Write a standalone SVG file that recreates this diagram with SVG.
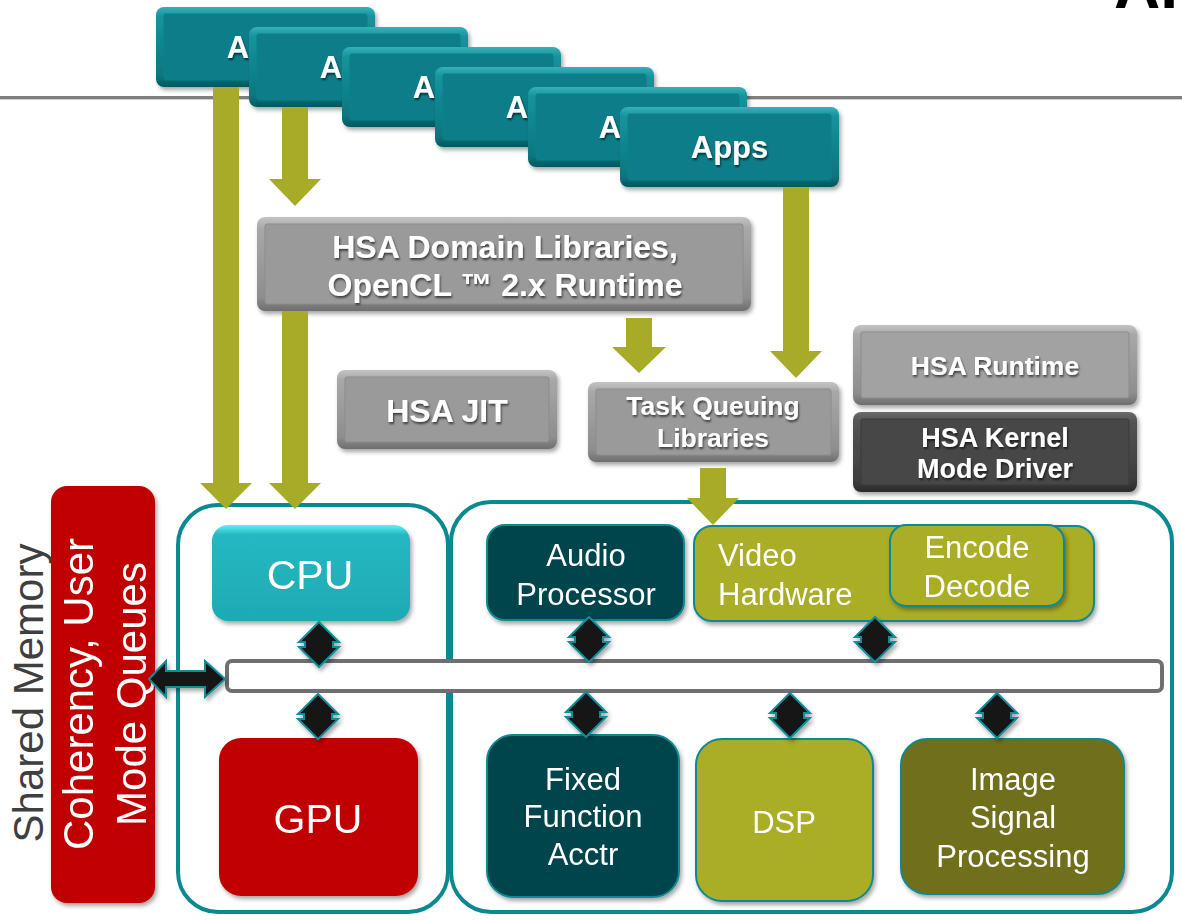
<svg xmlns="http://www.w3.org/2000/svg" xmlns:xlink="http://www.w3.org/1999/xlink" width="1182" height="920" viewBox="0 0 1182 920">
  <style>
    .bold { font-family: "Liberation Sans", Arial, sans-serif; font-weight: bold; fill: #ffffff; text-anchor: middle; }
    .reg { font-family: "Liberation Sans", Arial, sans-serif; fill: #ffffff; text-anchor: middle; font-size: 31px; }
    .big { font-size: 41px; }
    .side { font-family: "Liberation Sans", Arial, sans-serif; font-size: 42px; text-anchor: middle; }
    .tealEdge { fill: url(#tealBevel); }
    .tealFace { fill: #0a7e89; stroke: #068089; stroke-width: 1; }
    .grayEdge { fill: url(#grayBevel); }
    .grayFace { fill: #9a9a9a; stroke: #8c8c8c; stroke-width: 1; }
    .darkEdge { fill: url(#darkBevel); }
    .darkFace { fill: #474747; stroke: #3c3c3c; stroke-width: 1; }
    .frame { fill: none; stroke: #0b8993; stroke-width: 4; }
    .unit { stroke: #0b8993; stroke-width: 2; }
    .flow { fill: #a8ab27; }
    .link { fill: #141419; stroke: #0b8e98; stroke-width: 2; stroke-linejoin: miter; }
  </style>
  <defs>
    <linearGradient id="tealBevel" x1="0" y1="0" x2="0" y2="1">
      <stop offset="0" stop-color="#35b0b9"/>
      <stop offset="0.12" stop-color="#14939d"/>
      <stop offset="0.85" stop-color="#0a7780"/>
      <stop offset="1" stop-color="#045860"/>
    </linearGradient>
    <linearGradient id="grayBevel" x1="0" y1="0" x2="0" y2="1">
      <stop offset="0" stop-color="#c4c4c4"/>
      <stop offset="0.12" stop-color="#a8a8a8"/>
      <stop offset="0.85" stop-color="#8e8e8e"/>
      <stop offset="1" stop-color="#6e6e6e"/>
    </linearGradient>
    <linearGradient id="darkBevel" x1="0" y1="0" x2="0" y2="1">
      <stop offset="0" stop-color="#6a6a6a"/>
      <stop offset="0.12" stop-color="#545454"/>
      <stop offset="0.85" stop-color="#3e3e3e"/>
      <stop offset="1" stop-color="#2a2a2a"/>
    </linearGradient>
    <linearGradient id="cpuFill" x1="0" y1="0" x2="0" y2="1">
      <stop offset="0" stop-color="#5cf2f7"/>
      <stop offset="0.1" stop-color="#25b8c2"/>
      <stop offset="1" stop-color="#1eaab4"/>
    </linearGradient>
    <filter id="shadow" x="-10%" y="-10%" width="125%" height="135%">
      <feDropShadow dx="2" dy="3" stdDeviation="2" flood-color="#000" flood-opacity="0.35"/>
    </filter>
    <filter id="textShadow" x="-10%" y="-20%" width="120%" height="150%">
      <feDropShadow dx="1" dy="2" stdDeviation="1" flood-color="#000" flood-opacity="0.6"/>
    </filter>
    <!-- two-headed bus link, drawn pointing down from its top tip -->
    <path id="dbl" d="M0,0 L20,20 H14 V25 H20 L0,45 L-20,25 H-14 V20 H-20 Z"/>
  </defs>

  <rect width="1182" height="920" fill="#ffffff"/>

  <!-- title rule and clipped heading -->
  <rect x="0" y="96" width="1182" height="3" fill="#7f7f7f"/>
  <rect x="0" y="99" width="1182" height="1" fill="#cfcfcf"/>
  <text x="1114" y="8" font-family="Liberation Sans, Arial, sans-serif" font-weight="bold" font-size="64" fill="#000000">AP</text>

  <!-- stacked application boxes -->
  <g id="app1" filter="url(#shadow)">
    <rect class="tealEdge" x="156" y="7" width="219" height="80" rx="8"/>
    <rect class="tealFace" x="164" y="14" width="203" height="66" rx="2"/>
    <text class="bold" x="265.5" y="58" font-size="31" filter="url(#textShadow)">Apps</text>
  </g>
  <g id="app2" filter="url(#shadow)">
    <rect class="tealEdge" x="249" y="27" width="219" height="80" rx="8"/>
    <rect class="tealFace" x="257" y="34" width="203" height="66" rx="2"/>
    <text class="bold" x="358.5" y="78" font-size="31" filter="url(#textShadow)">Apps</text>
  </g>
  <g id="app3" filter="url(#shadow)">
    <rect class="tealEdge" x="342" y="47" width="219" height="80" rx="8"/>
    <rect class="tealFace" x="350" y="54" width="203" height="66" rx="2"/>
    <text class="bold" x="451.5" y="98" font-size="31" filter="url(#textShadow)">Apps</text>
  </g>
  <g id="app4" filter="url(#shadow)">
    <rect class="tealEdge" x="435" y="67" width="219" height="80" rx="8"/>
    <rect class="tealFace" x="443" y="74" width="203" height="66" rx="2"/>
    <text class="bold" x="544.5" y="118" font-size="31" filter="url(#textShadow)">Apps</text>
  </g>
  <g id="app5" filter="url(#shadow)">
    <rect class="tealEdge" x="528" y="87" width="219" height="80" rx="8"/>
    <rect class="tealFace" x="536" y="94" width="203" height="66" rx="2"/>
    <text class="bold" x="637.5" y="138" font-size="31" filter="url(#textShadow)">Apps</text>
  </g>
  <g id="app6" filter="url(#shadow)">
    <rect class="tealEdge" x="620" y="107" width="219" height="80" rx="8"/>
    <rect class="tealFace" x="628" y="114" width="203" height="66" rx="2"/>
    <text class="bold" x="729.5" y="158" font-size="31" filter="url(#textShadow)">Apps</text>
  </g>

  <!-- software stack -->
  <g id="domainLibs" filter="url(#shadow)">
    <rect class="grayEdge" x="257" y="217" width="494" height="94" rx="8"/>
    <rect class="grayFace" x="265" y="224" width="478" height="80" rx="2"/>
    <text class="bold" x="505" y="258" font-size="32" filter="url(#textShadow)">HSA Domain Libraries,</text>
    <text class="bold" x="505" y="296" font-size="32" filter="url(#textShadow)">OpenCL ™ 2.x Runtime</text>
  </g>
  <g id="hsaJit" filter="url(#shadow)">
    <rect class="grayEdge" x="337" y="370" width="220" height="79" rx="8"/>
    <rect class="grayFace" x="345" y="377" width="204" height="65" rx="2"/>
    <text class="bold" x="447" y="422" font-size="32" filter="url(#textShadow)">HSA JIT</text>
  </g>
  <g id="taskQueuing" filter="url(#shadow)">
    <rect class="grayEdge" x="588" y="382" width="251" height="80" rx="8"/>
    <rect class="grayFace" x="596" y="389" width="235" height="66" rx="2"/>
    <text class="bold" x="713" y="415" font-size="26.5" filter="url(#textShadow)">Task Queuing</text>
    <text class="bold" x="713" y="447" font-size="26.5" filter="url(#textShadow)">Libraries</text>
  </g>
  <g id="hsaRuntime" filter="url(#shadow)">
    <rect class="grayEdge" x="853" y="325" width="284" height="80" rx="8"/>
    <rect class="grayFace" x="861" y="332" width="268" height="66" rx="2" style="fill:#a2a2a2"/>
    <text class="bold" x="995" y="375" font-size="26.5" filter="url(#textShadow)">HSA Runtime</text>
  </g>
  <g id="kernelDriver" filter="url(#shadow)">
    <rect class="darkEdge" x="853" y="412" width="284" height="80" rx="8"/>
    <rect class="darkFace" x="861" y="419" width="268" height="66" rx="2"/>
    <text class="bold" x="995" y="447" font-size="27" filter="url(#textShadow)">HSA Kernel</text>
    <text class="bold" x="995" y="478" font-size="27" filter="url(#textShadow)">Mode Driver</text>
  </g>

  <!-- hardware frames -->
  <g id="cpuGpuFrame">
    <rect class="frame" x="178" y="505" width="270" height="407" rx="40"/>
  </g>
  <g id="acceleratorFrame">
    <rect class="frame" x="451" y="502" width="721" height="410" rx="40"/>
  </g>

  <!-- shared memory side label -->
  <g id="sharedMemory">
    <text class="side" transform="translate(43,693) rotate(-90)" fill="#3f3f3f">Shared Memory</text>
  </g>
  <g id="coherency" filter="url(#shadow)">
    <rect x="51" y="486" width="104" height="417" rx="16" fill="#c00000"/>
    <text class="side" transform="translate(93,694) rotate(-90)" fill="#ffffff">Coherency, User</text>
    <text class="side" transform="translate(146,694) rotate(-90)" fill="#ffffff">Mode Queues</text>
  </g>

  <!-- processing units -->
  <g id="cpu" filter="url(#shadow)">
    <rect x="212" y="525" width="198" height="96" rx="16" fill="url(#cpuFill)"/>
    <text class="reg big" x="310" y="589">CPU</text>
  </g>
  <g id="gpu" filter="url(#shadow)">
    <rect x="219" y="738" width="199" height="158" rx="22" fill="#c00000"/>
    <text class="reg big" x="318" y="833">GPU</text>
  </g>
  <g id="audio" filter="url(#shadow)">
    <rect class="unit" x="487" y="525" width="197" height="95" rx="18" fill="#02454b"/>
    <text class="reg" x="586" y="566">Audio</text>
    <text class="reg" x="586" y="605">Processor</text>
  </g>
  <g id="video" filter="url(#shadow)">
    <rect class="unit" x="694" y="526" width="400" height="95" rx="18" fill="#aaad28"/>
    <text class="reg" x="718" y="566" style="text-anchor:start">Video</text>
    <text class="reg" x="718" y="605" style="text-anchor:start">Hardware</text>
  </g>
  <g id="encodeDecode" filter="url(#shadow)">
    <rect class="unit" x="890" y="525" width="174" height="81" rx="16" fill="#aaad28"/>
    <text class="reg" x="977" y="558">Encode</text>
    <text class="reg" x="977" y="597">Decode</text>
  </g>
  <g id="fixedFunction" filter="url(#shadow)">
    <rect class="unit" x="487" y="735" width="192" height="162" rx="26" fill="#02454b"/>
    <text class="reg" x="583" y="790">Fixed</text>
    <text class="reg" x="583" y="827">Function</text>
    <text class="reg" x="583" y="865">Acctr</text>
  </g>
  <g id="dsp" filter="url(#shadow)">
    <rect class="unit" x="696" y="739" width="177" height="162" rx="26" fill="#aaad28"/>
    <text class="reg" x="784" y="833">DSP</text>
  </g>
  <g id="imageSignal" filter="url(#shadow)">
    <rect class="unit" x="901" y="739" width="223" height="155" rx="26" fill="#6f701f"/>
    <text class="reg" x="1013" y="790">Image</text>
    <text class="reg" x="1013" y="828">Signal</text>
    <text class="reg" x="1013" y="867">Processing</text>
  </g>
  <g id="bus">
    <rect x="227" y="661" width="935" height="30" rx="5" fill="#ffffff" stroke="#6e6e73" stroke-width="4"/>
  </g>

  <!-- connectors -->
  <g id="connectors">
    <path class="flow" d="M213,87 H239 V483 H252 L226,509 L200,483 H213 Z"/>
    <path class="flow" d="M282,107 H308 V179 H321 L295,206 L269,179 H282 Z"/>
    <path class="flow" d="M282,311 H308 V483 H321 L295,509 L269,483 H282 Z"/>
    <path class="flow" d="M626,318 H652 V347 H666 L639,373 L612,347 H626 Z"/>
    <path class="flow" d="M783,187 H809 V351 H822 L796,378 L770,351 H783 Z"/>
    <path class="flow" d="M700,468 H726 V498 H739 L713,525 L687,498 H700 Z"/>
    <g filter="url(#shadow)">
      <path class="link" d="M149,679 L166,661 V671 H205 V661 L225,679 L205,697 V687 H166 V697 Z"/>
      <use class="link" href="#dbl" transform="translate(319,622)"/>
      <use class="link" href="#dbl" transform="translate(318,694)"/>
      <use class="link" href="#dbl" transform="translate(589,617)"/>
      <use class="link" href="#dbl" transform="translate(875,617)"/>
      <use class="link" href="#dbl" transform="translate(586,692)"/>
      <use class="link" href="#dbl" transform="translate(790,693)"/>
      <use class="link" href="#dbl" transform="translate(997,693)"/>
    </g>
  </g>
</svg>
